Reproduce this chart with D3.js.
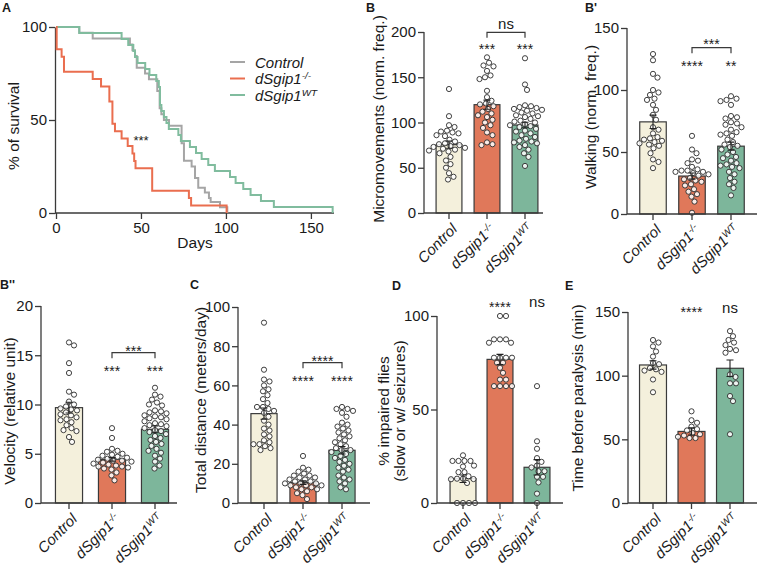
<!DOCTYPE html>
<html><head><meta charset="utf-8">
<script src="https://cdn.jsdelivr.net/npm/d3@7"></script>
<style>
body{margin:0;background:#fff}
svg{display:block}
text{font-family:"Liberation Sans",Arial,sans-serif;fill:#1a1a1a}
</style>
</head><body>
<svg id="chart" width="758" height="566"></svg>
<script>
// ---------------- DATA ----------------
const groups = ["Control", "dSgip1-/-", "dSgip1WT"];
const barFills = ["#f4f0dc", "#e0785a", "#7db69b"];
const lineColors = ["#a5a5a5", "#ea6e4f", "#80bc9e"];

// Panel A: Kaplan-Meier steps (day, % survival)
const survCtrlDays = [0,13.7,21.6,43.5,45,46.5,47.5,52.4,54.7,59.6,61,62,63.5,66.5,73.9,75.3,79.8,81.8,83.7,87.6,90,91,96.5,100.8];
const survCtrlPct  = [100,96.9,93.8,90.6,87.5,84.4,78.1,75,71.9,65.6,56.3,53.1,50,46.9,37.5,28.1,25,18.8,13.6,11,8,5.9,3.1,0];
const survKODays = [0,0.4,3.3,4.7,21.6,26.5,31.4,33.2,34.7,38.6,42.2,45,46,46.8,56.6,78.2,79.5,100.4];
const survKOPct  = [100,88,84,76,72,68,60,48,44,40,36,32,28,24,12,8,4,0];
const survWTDays = [0,13.7,38.6,42.5,45.5,46.5,48,52.5,55,59,60.5,61.2,62,63.5,65,66.4,72,73.5,78.8,82.4,85.7,89.6,93.5,102.4,105.7,110.2,114.5,120.6,128.2,162.8];
const survWTPct  = [100,96.8,93.5,90.3,87.1,83.9,80.6,77.4,74.2,71,67.7,58.1,54.8,51.6,48.4,45.2,41.9,38.7,35.5,32.3,29,25.8,22.6,19.4,16.1,12.9,9.7,6.5,3.2,0];
const survXTicks = [0, 50, 100, 150];
const survYTicks = [0, 50, 100];

// Panel B: Micromovements
const microCtrl = [137,107,97,95,91,90,89,88,86,85,81,79,77,76,75,74,73,72,71,70,69,68,66,62,58,54,50,44,40,37];
const microKO   = [172,166,163,162,157,152,150,148,135,128,124,121,120,118,115,112,110,108,106,103,100,97,94,89,86,78,76,75];
const microWT   = [171,142,136,119,118,117,116,115,114,113,111,110,108,107,106,104,102,101,100,98,97,96,95,93,91,90,88,86,84,82,80,79,78,77,75,73,70,66,62,52];
const microMean = [75.5, 119.7, 97.2];
const microSem  = [4, 5, 3];
const microTicks = [0, 50, 100, 150, 200];

// Panel B': Walking
const walkCtrl = [129,124,113,110,100,98,96,93,92,88,84,80,76,70,68,65,62,61,60,59,58,57,56,55,53,49,44,42,37];
const walkKO   = [63,52,49,44,43,41,38,36,35,35,34,34,33,32,31,29,28,27,26,24,23,20,18,16,14,10,1];
const walkWT   = [95,93,92,91,88,79,78,77,74,73,72,70,68,66,65,64,63,60,58,56,55,54,52,50,48,46,45,43,41,40,39,38,37,34,32,29,26,24,21,15];
const walkMean = [74.3, 30.6, 54.7];
const walkSem  = [5.4, 2.5, 3.3];
const walkTicks = [0, 50, 100, 150];

// Panel B'': Velocity
const veloCtrl = [16.3,16.0,14.2,13.2,11.3,11.0,10.3,10.0,9.8,9.6,9.5,9.4,9.2,9.0,8.9,8.7,8.5,8.4,8.2,7.9,7.6,7.4,7.3,6.7,6.2];
const veloKO   = [7.6,6.6,5.5,5.3,5.2,5.0,4.9,4.8,4.7,4.6,4.5,4.4,4.3,4.3,4.2,4.1,4.0,3.9,3.8,3.7,3.7,3.6,3.5,3.4,3.1,2.8,2.3];
const veloWT   = [11.7,11.0,10.8,10.5,10.2,10.0,9.9,9.4,9.3,9.2,9.1,8.9,8.8,8.7,8.6,8.5,8.3,8.1,8.0,7.9,7.8,7.6,7.4,7.3,7.2,7.0,6.8,6.6,6.4,6.2,6.0,5.8,5.5,5.3,5.1,4.8,4.5,4.2,3.8,3.5];
const veloMean = [9.68, 4.43, 7.48];
const veloSem  = [0.55, 0.18, 0.35];
const veloTicks = [0, 5, 10, 15, 20];

// Panel C: Total distance
const distCtrl = [92,68,63,62,60,58,57,55,53,51,49,49,48,47,46,44,42,40,38,37,35,34,32,31,30,30,29,28,27];
const distKO   = [24,18,17,16,15,14,14,13,13,12,12,11,11,10,10,10,9,9,9,8,8,7,7,6,5,4,2];
const distWT   = [49,48,48,47,46,44,41,40,39,38,37,36,35,34,33,32,31,30,29,28,27,27,26,25,24,23,22,21,20,19,18,17,16,14,13,12,11,10,8,7];
const distMean = [45.6, 10.4, 26.9];
const distSem  = [2.9, 0.9, 1.9];
const distTicks = [0, 20, 40, 60, 80, 100];

// Panel D: % impaired flies
const impCtrl = [25.5,22.5,22.5,22.5,22.5,20,19.5,16.5,16.5,14.3,13,13,12.8,12.7,10.7,0,0,0,0];
const impKO   = [100,100,87.5,87.5,87.5,85.7,85.7,77.7,77.7,77.7,77.7,75,75,72.3,69.6,66,66,62.5,62.5,62.5,62.5];
const impWT   = [62.5,33,29,24,22,20,19,17,17,14,14,11,5,0];
const impMean = [13, 76.8, 19.1];
const impSem  = [2, 2.7, 4.1];
const impTicks = [0, 50, 100];

// Panel E: Time before paralysis
const parCtrl = [128,126,123,119,115,110,109,106,105,104,103,97,87];
const parKO   = [72,65,63,60,58,57,55,54,53,52,51,51];
const parWT   = [135,131,128,126,124,121,120,118,101,99,94,94,84,80,54];
const parMean = [108.4, 56.2, 105.8];
const parSem  = [3.3, 2.8, 6.5];
const parTicks = [0, 50, 100, 150];

// ---------------- DRAWING ----------------
const svg = d3.select("#chart");
const AX = "#3a3a3a";
const TICK_FS = 15, LABEL_FS = 15.5, CAT_FS = 15, STAR_FS = 14;

function groupLabel(sel, i) {
  if (i === 0) { sel.append("tspan").text("Control"); return; }
  sel.append("tspan").text("dSgip1");
  sel.append("tspan").attr("dy", "-0.5em").attr("font-size", "0.66em").text(i === 1 ? "-/-" : "WT");
}

function panelLetter(txt, x, y) {
  svg.append("text").attr("x", x).attr("y", y).attr("font-size", 12.5).attr("font-weight", "bold").text(txt);
}

// ---- Panel A ----
(function () {
  const g = svg.append("g");
  const x = d3.scaleLinear().domain([0, 163]).range([56, 333]);
  const y = d3.scaleLinear().domain([0, 100]).range([213, 27]);
  const ax = g.append("g").attr("transform", "translate(0,213)")
    .call(d3.axisBottom(x).tickValues(survXTicks).tickSize(6).tickPadding(3).tickSizeOuter(0));
  ax.select(".domain").attr("d", "M55,0H334");
  const ay = g.append("g").attr("transform", "translate(55,0)")
    .call(d3.axisLeft(y).tickValues(survYTicks).tickSize(6).tickPadding(2).tickSizeOuter(0));
  [ax, ay].forEach(a => {
    a.selectAll(".domain,.tick line").attr("stroke", AX).attr("stroke-width", 1.3);
    a.selectAll("text").attr("font-size", TICK_FS).attr("fill", "#1a1a1a").attr("font-family", '"Liberation Sans",Arial,sans-serif');
  });
  g.append("text").attr("x", 195).attr("y", 248).attr("text-anchor", "middle").attr("font-size", LABEL_FS).text("Days");
  g.append("text").attr("transform", "translate(19,126) rotate(-90)").attr("text-anchor", "middle").attr("font-size", LABEL_FS).text("% of survival");

  const line = d3.line().x(d => x(d[0])).y(d => y(d[1])).curve(d3.curveStepAfter);
  const series = [
    [survCtrlDays, survCtrlPct, 0],
    [survWTDays, survWTPct, 2],
    [survKODays, survKOPct, 1]
  ];
  series.forEach(([ds, ps, c]) => {
    g.append("path").datum(d3.zip(ds, ps)).attr("d", line).attr("fill", "none")
      .attr("stroke", lineColors[c]).attr("stroke-width", 2);
  });
  g.append("text").attr("x", 141).attr("y", 144.5).attr("text-anchor", "middle").attr("font-size", 13).text("***");

  // legend
  groups.forEach((nm, i) => {
    const ly = 62 + i * 16.5;
    g.append("line").attr("x1", 230).attr("x2", 245).attr("y1", ly).attr("y2", ly)
      .attr("stroke", lineColors[i]).attr("stroke-width", 2);
    const t = g.append("text").attr("x", 255).attr("y", ly + 5.5).attr("font-size", 15).attr("font-style", "italic");
    groupLabel(t, i);
  });
})();

// ---- Bar panels ----
function swarm(values, yScale, cx, r) {
  const pts = values.map(v => ({ v, y: yScale(v) })).sort((a, b) => a.y - b.y);
  const placed = [];
  const d = 2 * r + 0.5;
  pts.forEach(p => {
    let off = 0;
    outer: for (let k = 0; k < 80; k++) {
      const cand = k === 0 ? [0] : [k * 0.5, -k * 0.5];
      for (const o of cand) {
        if (placed.every(q => (q.x - o) ** 2 + (q.y - p.y) ** 2 >= d * d)) { off = o; break outer; }
      }
    }
    p.x = cx + off;
    placed.push({ x: off, y: p.y });
  });
  return pts;
}

function barPanel(cfg) {
  const g = svg.append("g");
  const y = d3.scaleLinear().domain([0, cfg.max]).range([cfg.y0, cfg.yTop]);
  const x = d3.scaleBand().domain(groups).range(cfg.xr).paddingInner(cfg.pad).paddingOuter(cfg.pad / 2);
  const bw = x.bandwidth();

  groups.forEach((gr, i) => {
    g.append("rect").attr("x", x(gr)).attr("y", y(cfg.mean[i])).attr("width", bw)
      .attr("height", cfg.y0 - y(cfg.mean[i])).attr("fill", barFills[i])
      .attr("stroke", AX).attr("stroke-width", 1.2);
  });
  groups.forEach((gr, i) => {
    const cx = x(gr) + bw / 2;
    const pts = swarm(cfg.vals[i], y, cx, 2.6);
    g.selectAll(null).data(pts).enter().append("circle")
      .attr("cx", d => d.x).attr("cy", d => d.y).attr("r", 2.6)
      .attr("fill", "white").attr("fill-opacity", 0.85).attr("stroke", "#2a2a2a").attr("stroke-width", 0.9);
  });
  groups.forEach((gr, i) => {
    const cx = x(gr) + bw / 2;
    const hi = y(cfg.mean[i] + cfg.sem[i]), lo = y(cfg.mean[i] - cfg.sem[i]);
    g.append("path").attr("d", `M${cx},${hi}V${lo}M${cx - 3.5},${hi}H${cx + 3.5}M${cx - 3.5},${lo}H${cx + 3.5}`)
      .attr("stroke", "#222").attr("stroke-width", 1.1).attr("fill", "none");
  });

  const ay = g.append("g").attr("transform", `translate(${cfg.axisX},0)`)
    .call(d3.axisLeft(y).tickValues(cfg.ticks).tickSize(6).tickPadding(2).tickSizeOuter(0));
  ay.select(".domain").attr("d", `M0,${cfg.y0}V${cfg.yTop}`);
  const ax = g.append("g").attr("transform", `translate(0,${cfg.y0})`)
    .call(d3.axisBottom(x).tickSize(6).tickSizeOuter(0).tickFormat(""));
  ax.select(".domain").attr("d", `M${cfg.axisX},0H${cfg.axisEnd}`);
  [ax, ay].forEach(a => {
    a.selectAll(".domain,.tick line").attr("stroke", AX).attr("stroke-width", 1.3);
    a.selectAll("text").attr("font-size", TICK_FS).attr("fill", "#1a1a1a").attr("font-family", '"Liberation Sans",Arial,sans-serif');
  });
  groups.forEach((gr, i) => {
    const cx = x(gr) + bw / 2;
    const t = g.append("text").attr("transform", `translate(${cx + 9},${cfg.y0 + 17}) rotate(-45)`)
      .attr("text-anchor", "end").attr("font-size", CAT_FS).attr("font-style", "italic");
    groupLabel(t, i);
  });
  cfg.label.forEach((ln, k) => {
    g.append("text").attr("transform", `translate(${cfg.labelX[k]},${cfg.labelY}) rotate(-90)`)
      .attr("text-anchor", "middle").attr("font-size", LABEL_FS).text(ln);
  });
  const cxOf = i => x(groups[i]) + bw / 2;
  (cfg.stars || []).forEach(s => {
    g.append("text").attr("x", cxOf(s.i)).attr("y", s.y).attr("text-anchor", "middle")
      .attr("font-size", s.t === "ns" ? TICK_FS : STAR_FS).text(s.t);
  });
  if (cfg.bracket) {
    const b = cfg.bracket;
    const x1 = cxOf(1), x2 = cxOf(2);
    g.append("path").attr("d", `M${x1},${b.y + 5.5}V${b.y}H${x2}V${b.y + 5.5}`)
      .attr("stroke", AX).attr("stroke-width", 1.2).attr("fill", "none");
    g.append("text").attr("x", (x1 + x2) / 2).attr("y", b.ty).attr("text-anchor", "middle")
      .attr("font-size", b.t === "ns" ? TICK_FS : STAR_FS).text(b.t);
  }
}

barPanel({ vals: [microCtrl, microKO, microWT], mean: microMean, sem: microSem, max: 200, ticks: microTicks,
  axisX: 424, y0: 213, yTop: 32, xr: [430, 544], pad: 0.32, axisEnd: 543,
  label: ["Micromovements (norm. freq.)"], labelX: [384], labelY: 119,
  stars: [{ i: 1, t: "***", y: 54 }, { i: 2, t: "***", y: 54 }],
  bracket: { y: 32.3, t: "ns", ty: 29 } });

barPanel({ vals: [walkCtrl, walkKO, walkWT], mean: walkMean, sem: walkSem, max: 150, ticks: walkTicks,
  axisX: 627, y0: 214, yTop: 28, xr: [633.5, 750.5], pad: 0.32, axisEnd: 757,
  label: ["Walking (norm. freq.)"], labelX: [596], labelY: 117,
  stars: [{ i: 1, t: "****", y: 71 }, { i: 2, t: "**", y: 71 }],
  bracket: { y: 47.7, t: "***", ty: 49 } });

barPanel({ vals: [veloCtrl, veloKO, veloWT], mean: veloMean, sem: veloSem, max: 20, ticks: veloTicks,
  axisX: 41, y0: 503, yTop: 306, xr: [47.5, 176.5], pad: 0.37, axisEnd: 177,
  label: ["Velocity (relative unit)"], labelX: [15], labelY: 411,
  stars: [{ i: 1, t: "***", y: 376 }, { i: 2, t: "***", y: 376 }],
  bracket: { y: 352.7, t: "***", ty: 356 } });

barPanel({ vals: [distCtrl, distKO, distWT], mean: distMean, sem: distSem, max: 100, ticks: distTicks,
  axisX: 238, y0: 503, yTop: 307, xr: [244.5, 361.5], pad: 0.33, axisEnd: 370,
  label: ["Total distance (meters/day)"], labelX: [206], labelY: 400,
  stars: [{ i: 1, t: "****", y: 386 }, { i: 2, t: "****", y: 386 }],
  bracket: { y: 362.7, t: "****", ty: 366 } });

barPanel({ vals: [impCtrl, impKO, impWT], mean: impMean, sem: impSem, max: 100, ticks: impTicks,
  axisX: 437, y0: 503, yTop: 316, xr: [444.5, 555.5], pad: 0.3, axisEnd: 563,
  label: ["% impaired flies", "(slow or w/ seizures)"], labelX: [389, 405], labelY: 411,
  stars: [{ i: 1, t: "****", y: 312 }, { i: 2, t: "ns", y: 307 }] });

barPanel({ vals: [parCtrl, parKO, parWT], mean: parMean, sem: parSem, max: 150, ticks: parTicks,
  axisX: 628, y0: 503, yTop: 312, xr: [633.75, 749.25], pad: 0.3, axisEnd: 757,
  label: ["Time before paralysis (min)"], labelX: [583], labelY: 398,
  stars: [{ i: 1, t: "****", y: 317 }, { i: 2, t: "ns", y: 313 }] });

panelLetter("A", 2, 12);
panelLetter("B", 366, 12);
panelLetter("B'", 585, 12);
panelLetter("B''", 0, 289);
panelLetter("C", 190, 289);
panelLetter("D", 392, 290);
panelLetter("E", 565, 290);
</script>
</body></html>
